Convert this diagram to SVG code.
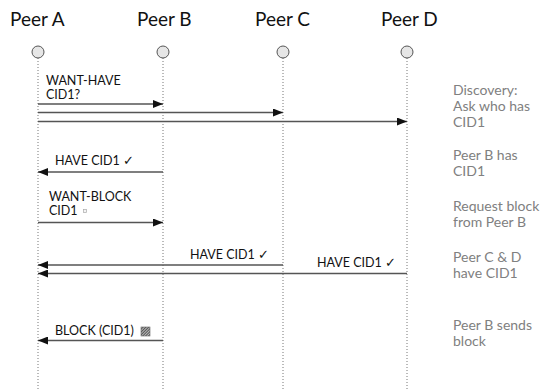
<svg xmlns="http://www.w3.org/2000/svg" width="542" height="391" viewBox="0 0 542 391">
<style>
.peer{font-family:Lato,"Liberation Sans",sans-serif;font-size:19px;fill:#111}
.lbl{font-family:Lato,"Liberation Sans",sans-serif;font-size:12.5px;fill:#111}
.note{font-family:Lato,"Liberation Sans",sans-serif;font-size:14px;fill:#808080}
.life{stroke:#777;stroke-width:1;stroke-dasharray:1,2}
.head{fill:#e6e6e6;stroke:#555;stroke-width:1}
.msg{stroke:#555;stroke-width:1.5;fill:none;marker-end:url(#arr)}
</style>
<defs>
<marker id="arr" viewBox="0 0 10 8" refX="10" refY="4" markerWidth="10" markerHeight="8" markerUnits="userSpaceOnUse" orient="auto">
<path d="M0,0 L10,4 L0,8 z" fill="#111"/>
</marker>
<pattern id="hatch" width="2" height="2" patternUnits="userSpaceOnUse" patternTransform="rotate(45)">
<rect width="2" height="2" fill="#bbb"/><rect width="1" height="2" fill="#555"/>
</pattern>
</defs>
<rect width="542" height="391" fill="#fff"/>
<g id="peerA"><text class="peer" x="10" y="26">Peer A</text><line class="life" x1="38" y1="58" x2="38" y2="391"/><circle class="head" cx="38" cy="52" r="6"/></g>
<g id="peerB"><text class="peer" x="137" y="26">Peer B</text><line class="life" x1="163" y1="58" x2="163" y2="391"/><circle class="head" cx="163" cy="52" r="6"/></g>
<g id="peerC"><text class="peer" x="255" y="26">Peer C</text><line class="life" x1="283" y1="58" x2="283" y2="391"/><circle class="head" cx="283" cy="52" r="6"/></g>
<g id="peerD"><text class="peer" x="381" y="26">Peer D</text><line class="life" x1="407" y1="58" x2="407" y2="391"/><circle class="head" cx="407" cy="52" r="6"/></g>
<g id="connectors">
<line class="msg" x1="38" y1="104" x2="163" y2="104"/>
<line class="msg" x1="38" y1="112.5" x2="283" y2="112.5"/>
<line class="msg" x1="38" y1="121.5" x2="407" y2="121.5"/>
<line class="msg" x1="163" y1="172" x2="38" y2="172"/>
<line class="msg" x1="38" y1="222.5" x2="163" y2="222.5"/>
<line class="msg" x1="283" y1="265" x2="38" y2="265"/>
<line class="msg" x1="407" y1="273.5" x2="38" y2="273.5"/>
<line class="msg" x1="163" y1="340.5" x2="38" y2="340.5"/>
</g>
<g id="labels">
<text class="lbl" x="46" y="85">WANT-HAVE</text>
<text class="lbl" x="46" y="99">CID1?</text>
<text class="lbl" x="55" y="165">HAVE CID1 ✓</text>
<text class="lbl" x="49" y="201">WANT-BLOCK</text>
<text class="lbl" x="49" y="215">CID1</text>
<rect x="83.5" y="209.5" width="3" height="3" fill="#f4f4f4" stroke="#aaa" stroke-width="0.7"/>
<text class="lbl" x="190" y="259">HAVE CID1 ✓</text>
<text class="lbl" x="317" y="267">HAVE CID1 ✓</text>
<text class="lbl" x="55" y="335">BLOCK (CID1)</text>
<rect x="141" y="327" width="9" height="9" fill="url(#hatch)" stroke="#666" stroke-width="0.6"/>
</g>
<g id="notes">
<text class="note" x="453" y="95">Discovery:</text>
<text class="note" x="453" y="111">Ask who has</text>
<text class="note" x="453" y="127">CID1</text>
<text class="note" x="453" y="160">Peer B has</text>
<text class="note" x="453" y="176">CID1</text>
<text class="note" x="453" y="211">Request block</text>
<text class="note" x="453" y="227">from Peer B</text>
<text class="note" x="453" y="262">Peer C &amp; D</text>
<text class="note" x="453" y="278">have CID1</text>
<text class="note" x="453" y="330">Peer B sends</text>
<text class="note" x="453" y="346">block</text>
</g>
</svg>
